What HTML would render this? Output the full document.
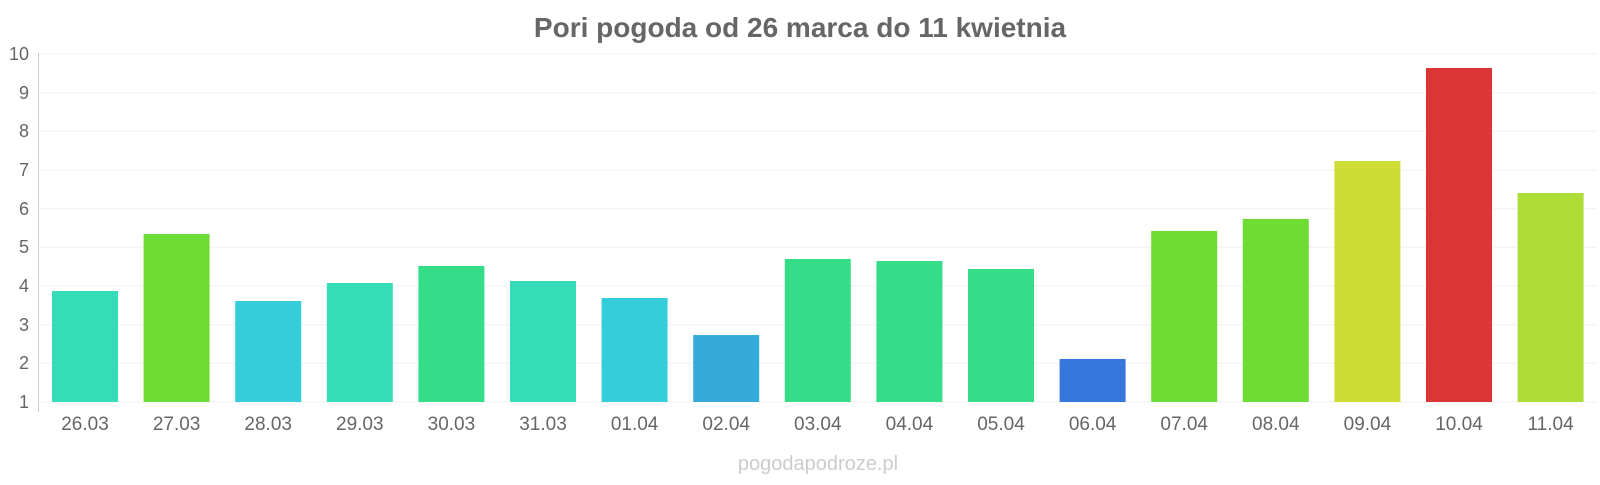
<!DOCTYPE html>
<html><head><meta charset="utf-8"><style>body{margin:0;background:#fff}</style></head><body>
<svg width="1600" height="480" xmlns="http://www.w3.org/2000/svg" font-family="Liberation Sans, sans-serif">
<text x="800" y="37" text-anchor="middle" font-size="28" font-weight="bold" fill="#666">Pori pogoda od 26 marca do 11 kwietnia</text>
<g stroke="#f0f0f0" stroke-width="1">
<line x1="39" x2="1597" y1="54" y2="54"/><line x1="39" x2="1597" y1="92.7" y2="92.7"/><line x1="39" x2="1597" y1="131.3" y2="131.3"/><line x1="39" x2="1597" y1="170" y2="170"/><line x1="39" x2="1597" y1="208.7" y2="208.7"/><line x1="39" x2="1597" y1="247.3" y2="247.3"/><line x1="39" x2="1597" y1="286" y2="286"/><line x1="39" x2="1597" y1="324.7" y2="324.7"/><line x1="39" x2="1597" y1="363.3" y2="363.3"/><line x1="39" x2="1597" y1="402" y2="402"/>
</g>
<line x1="38.5" x2="38.5" y1="53" y2="412" stroke="#ccc"/>
<g font-size="18" fill="#666" text-anchor="end">
<text x="29" y="60">10</text><text x="29" y="99">9</text><text x="29" y="137">8</text><text x="29" y="176">7</text><text x="29" y="215">6</text><text x="29" y="253">5</text><text x="29" y="292">4</text><text x="29" y="331">3</text><text x="29" y="369">2</text><text x="29" y="408">1</text>
</g>
<g>
<rect x="52" y="291" width="66" height="111" fill="#36dbb8"/>
<rect x="143.6" y="234" width="66" height="168" fill="#6ddd36"/>
<rect x="235.2" y="301" width="66" height="101" fill="#36cddb"/>
<rect x="326.8" y="283" width="66" height="119" fill="#36dbb8"/>
<rect x="418.4" y="266" width="66" height="136" fill="#36dd88"/>
<rect x="510" y="281" width="66" height="121" fill="#36dbb8"/>
<rect x="601.6" y="298" width="66" height="104" fill="#36cddb"/>
<rect x="693.2" y="335" width="66" height="67" fill="#36aadb"/>
<rect x="784.8" y="259" width="66" height="143" fill="#36dd88"/>
<rect x="876.4" y="261" width="66" height="141" fill="#36dd88"/>
<rect x="968" y="269" width="66" height="133" fill="#36dd88"/>
<rect x="1059.6" y="359" width="66" height="43" fill="#3677db"/>
<rect x="1151.2" y="231" width="66" height="171" fill="#6ddd36"/>
<rect x="1242.8" y="219" width="66" height="183" fill="#6ddd36"/>
<rect x="1334.4" y="161" width="66" height="241" fill="#cddd36"/>
<rect x="1426" y="68" width="66" height="334" fill="#db3636"/>
<rect x="1517.6" y="193" width="66" height="209" fill="#addd36"/>
</g>
<g font-size="19" fill="#666" text-anchor="middle">
<text x="85" y="430">26.03</text><text x="176.6" y="430">27.03</text><text x="268.2" y="430">28.03</text><text x="359.8" y="430">29.03</text><text x="451.4" y="430">30.03</text><text x="543" y="430">31.03</text><text x="634.6" y="430">01.04</text><text x="726.2" y="430">02.04</text><text x="817.8" y="430">03.04</text><text x="909.4" y="430">04.04</text><text x="1001" y="430">05.04</text><text x="1092.6" y="430">06.04</text><text x="1184.2" y="430">07.04</text><text x="1275.8" y="430">08.04</text><text x="1367.4" y="430">09.04</text><text x="1459" y="430">10.04</text><text x="1550.6" y="430">11.04</text>
</g>
<text x="818" y="470" text-anchor="middle" font-size="20" fill="#ccc">pogodapodroze.pl</text>
</svg>
</body></html>
